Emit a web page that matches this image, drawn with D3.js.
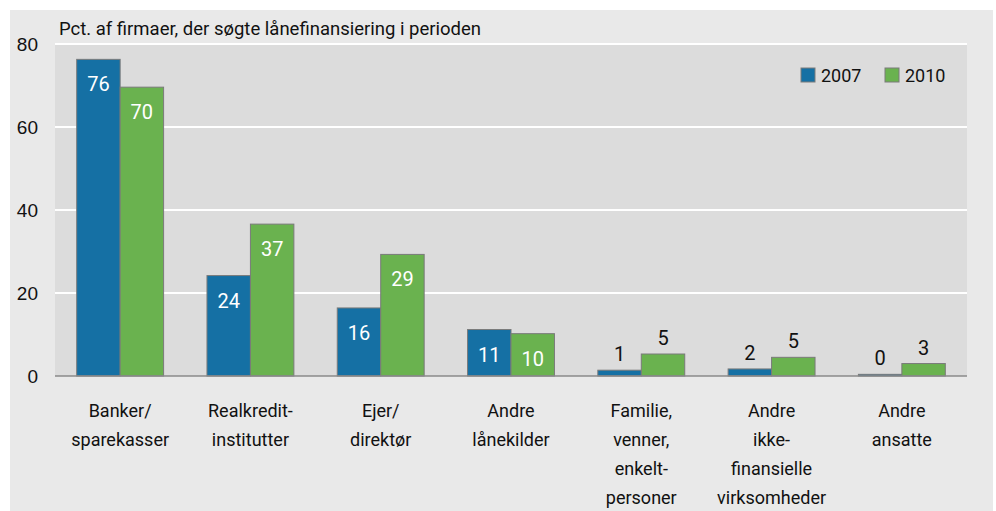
<!DOCTYPE html>
<html>
<head>
<meta charset="utf-8">
<script src="https://cdn.jsdelivr.net/npm/d3@7"></script>
<style>
  html, body { margin: 0; padding: 0; background: #ffffff; }
  svg { display: block; font-family: 'Liberation Sans Narrow', 'Roboto', 'DejaVu Sans Condensed', sans-serif; }
</style>
</head>
<body>
<svg id="chart" width="996" height="511"></svg>
<script>
  'use strict';

  var categories = [
    ['Banker/', 'sparekasser'],
    ['Realkredit-', 'institutter'],
    ['Ejer/', 'direktør'],
    ['Andre', 'lånekilder'],
    ['Familie,', 'venner,', 'enkelt-', 'personer'],
    ['Andre', 'ikke-', 'finansielle', 'virksomheder'],
    ['Andre', 'ansatte']
  ];
  var values2007 = [76.3, 24.2, 16.4, 11.2, 1.4, 1.7, 0.4];
  var values2010 = [69.6, 36.6, 29.3, 10.2, 5.3, 4.5, 3.0];
  var seriesNames = ['2007', '2010'];
  var yTicks = [0, 20, 40, 60, 80];

  var COLORS = ['#1570a4', '#6ab24f'],
      PLOT_LEFT = 55,
      PLOT_RIGHT = 967,
      PLOT_TOP = 44,
      PLOT_BOTTOM = 376,
      INSIDE_LIMIT = 8;

  var svg = d3.select('#chart');

  // outer panel and plot area
  svg.append('rect')
    .attr('x', 10).attr('y', 10)
    .attr('width', 983).attr('height', 501)
    .attr('fill', '#e9e9e9');

  svg.append('rect')
    .attr('x', PLOT_LEFT).attr('y', PLOT_TOP)
    .attr('width', PLOT_RIGHT - PLOT_LEFT).attr('height', PLOT_BOTTOM - PLOT_TOP)
    .attr('fill', '#dcdcdc');

  var x = d3.scaleBand()
    .domain(d3.range(categories.length))
    .range([PLOT_LEFT, PLOT_RIGHT])
    .paddingInner(0.333)
    .paddingOuter(0.1665);

  var xInner = d3.scaleBand()
    .domain(seriesNames)
    .range([0, x.bandwidth()]);

  var y = d3.scaleLinear()
    .domain([0, 80])
    .range([PLOT_BOTTOM, PLOT_TOP]);

  // gridlines
  svg.append('g')
    .selectAll('line')
    .data(yTicks.filter(function (t) { return t > 0; }))
    .enter()
      .append('line')
      .attr('x1', PLOT_LEFT)
      .attr('x2', PLOT_RIGHT)
      .attr('y1', function (d) { return y(d); })
      .attr('y2', function (d) { return y(d); })
      .attr('stroke', '#ffffff')
      .attr('stroke-width', 2);

  // y axis labels
  var yAxis = d3.axisLeft(y)
    .tickValues(yTicks)
    .tickSize(0)
    .tickPadding(17);

  var yAxisG = svg.append('g')
    .attr('transform', 'translate(' + PLOT_LEFT + ',0)')
    .call(yAxis);
  yAxisG.select('.domain').remove();
  yAxisG.selectAll('text')
    .attr('font-size', 19)
    .attr('font-family', null)
    .attr('fill', '#111');

  // unit title
  svg.append('text')
    .attr('x', 59)
    .attr('y', 35)
    .attr('font-size', 18.5)
    .attr('fill', '#111')
    .text('Pct. af firmaer, der søgte lånefinansiering i perioden');

  // bars
  var series = [values2007, values2010];
  var groups = svg.append('g')
    .selectAll('g')
    .data(categories)
    .enter()
      .append('g')
      .attr('transform', function (d, i) { return 'translate(' + x(i) + ',0)'; });

  seriesNames.forEach(function (name, s) {
    groups.append('rect')
      .attr('x', xInner(name))
      .attr('y', function (d, i) { return y(series[s][i]); })
      .attr('width', xInner.bandwidth())
      .attr('height', function (d, i) { return y(0) - y(series[s][i]); })
      .attr('fill', COLORS[s])
      .attr('stroke', '#7a7a7a')
      .attr('stroke-width', 1);

    groups.append('text')
      .attr('x', xInner(name) + xInner.bandwidth() / 2)
      .attr('y', function (d, i) {
        var v = series[s][i];
        return v > INSIDE_LIMIT ? y(v) + 32 : y(v) - 9;
      })
      .attr('text-anchor', 'middle')
      .attr('font-size', 20)
      .attr('fill', function (d, i) { return series[s][i] > INSIDE_LIMIT ? '#ffffff' : '#111'; })
      .text(function (d, i) { return Math.round(series[s][i]); });
  });

  // zero line
  svg.append('line')
    .attr('x1', PLOT_LEFT).attr('x2', PLOT_RIGHT)
    .attr('y1', y(0)).attr('y2', y(0))
    .attr('stroke', '#8a8a8a')
    .attr('stroke-width', 1.5);

  // category labels
  groups.append('text')
    .attr('x', x.bandwidth() / 2)
    .attr('y', 417)
    .attr('text-anchor', 'middle')
    .attr('font-size', 18)
    .attr('fill', '#111')
    .selectAll('tspan')
    .data(function (d) { return d; })
    .enter()
      .append('tspan')
      .attr('x', x.bandwidth() / 2)
      .attr('dy', function (d, i) { return i === 0 ? 0 : 29; })
      .text(function (d) { return d; });

  // legend
  var legend = svg.append('g')
    .selectAll('g')
    .data(seriesNames)
    .enter()
      .append('g')
      .attr('transform', function (d, i) { return 'translate(' + (801 + i * 84) + ',68)'; });

  legend.append('rect')
    .attr('width', 14).attr('height', 14)
    .attr('fill', function (d, i) { return COLORS[i]; })
    .attr('stroke', '#7a7a7a');

  legend.append('text')
    .attr('x', 20)
    .attr('y', 14)
    .attr('font-size', 18)
    .attr('fill', '#111')
    .text(function (d) { return d; });
</script>
</body>
</html>
